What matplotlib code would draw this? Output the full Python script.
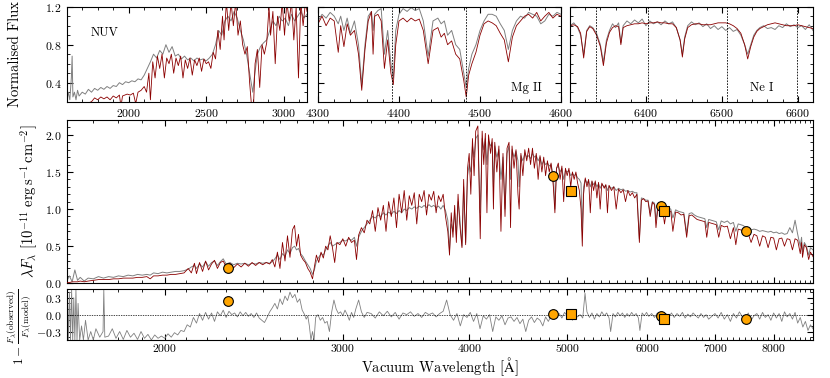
import numpy as np
import matplotlib
matplotlib.use('Agg')
import matplotlib.pyplot as plt
from matplotlib.ticker import FixedLocator, MultipleLocator, NullFormatter, FuncFormatter

# ---- spectrum, full range (wavelength in A, lambda*F_lambda in 1e-11 erg/s/cm2) ----
main_wave = [
    1600, 1610, 1620, 1630, 1640, 1650, 1665, 1680, 1700, 1720, 1740, 1760, 1780, 1800, 1820, 1840,
    1860, 1880, 1900, 1920, 1935, 1950, 1970, 1990, 2010, 2030, 2050, 2070, 2090, 2110, 2125, 2140,
    2150, 2165, 2180, 2195, 2210, 2225, 2240, 2255, 2270, 2285, 2300, 2320, 2340, 2360, 2380, 2400,
    2420, 2440, 2460, 2480, 2500, 2520, 2540, 2555, 2570, 2585, 2600, 2615, 2630, 2645, 2660, 2675,
    2688, 2700, 2712, 2725, 2740, 2755, 2770, 2785, 2800, 2812, 2825, 2840, 2855, 2870, 2885, 2900,
    2915, 2930, 2945, 2960, 2980, 3000, 3020, 3040, 3060, 3080, 3095, 3110, 3130, 3150, 3170, 3190,
    3210, 3230, 3250, 3270, 3290, 3310, 3330, 3350, 3370, 3390, 3410, 3430, 3450, 3470, 3490, 3510,
    3530, 3550, 3570, 3590, 3610, 3630, 3650, 3670, 3690, 3710, 3730, 3750, 3770, 3790, 3810, 3825,
    3840, 3855, 3870, 3885, 3900, 3915, 3935, 3950, 3968, 3985, 4000, 4015, 4030, 4045, 4060, 4080,
    4102, 4120, 4135, 4150, 4165, 4180, 4200, 4215, 4227, 4240, 4260, 4280, 4300, 4320, 4340, 4360,
    4380, 4395, 4410, 4430, 4450, 4470, 4482, 4500, 4520, 4540, 4560, 4580, 4600, 4620, 4640, 4660,
    4680, 4700, 4720, 4740, 4760, 4780, 4800, 4820, 4845, 4862, 4880, 4900, 4920, 4940, 4960, 4980,
    5000, 5020, 5040, 5060, 5080, 5100, 5120, 5140, 5160, 5175, 5190, 5210, 5230, 5250, 5270, 5290,
    5310, 5330, 5350, 5370, 5390, 5410, 5440, 5460, 5480, 5500, 5530, 5560, 5590, 5620, 5650, 5680,
    5710, 5740, 5770, 5800, 5830, 5860, 5893, 5920, 5950, 5980, 6010, 6040, 6070, 6100, 6120, 6150,
    6180, 6210, 6240, 6270, 6300, 6330, 6360, 6400, 6440, 6480, 6520, 6563, 6600, 6640, 6680, 6720,
    6760, 6800, 6840, 6870, 6900, 6940, 6980, 7020, 7060, 7100, 7150, 7200, 7250, 7300, 7340, 7380,
    7420, 7460, 7500, 7550, 7600, 7650, 7700, 7750, 7800, 7850, 7900, 7950, 8000, 8050, 8100, 8150,
    8200, 8250, 8300, 8350, 8400, 8450, 8500, 8525, 8544, 8580, 8620, 8664, 8700, 8750]
main_obs = [
    0.03, 0.10, 0.02, 0.18, 0.04, 0.08, 0.03, 0.07, 0.06, 0.09, 0.07, 0.09, 0.08, 0.10, 0.09, 0.11,
    0.10, 0.12, 0.11, 0.12, 0.11, 0.14, 0.13, 0.15, 0.14, 0.15, 0.16, 0.16, 0.17, 0.19, 0.22, 0.24,
    0.20, 0.26, 0.22, 0.29, 0.23, 0.28, 0.30, 0.24, 0.29, 0.33, 0.26, 0.28, 0.25, 0.27, 0.26, 0.27,
    0.25, 0.27, 0.26, 0.28, 0.27, 0.28, 0.27, 0.29, 0.33, 0.38, 0.32, 0.40, 0.36, 0.45, 0.40, 0.48,
    0.50, 0.45, 0.47, 0.40, 0.36, 0.30, 0.25, 0.20, 0.12, 0.18, 0.30, 0.35, 0.40, 0.38, 0.45, 0.50,
    0.55, 0.50, 0.52, 0.54, 0.55, 0.58, 0.57, 0.60, 0.58, 0.62, 0.50, 0.62, 0.70, 0.75, 0.80, 0.85,
    0.90, 0.88, 0.92, 0.90, 0.95, 0.92, 0.96, 0.93, 0.97, 0.94, 0.98, 0.95, 1.00, 0.98, 1.02, 1.00,
    1.03, 1.01, 1.04, 1.02, 1.05, 1.02, 1.06, 1.03, 1.05, 1.02, 1.04, 1.00, 1.05, 0.98, 0.85, 0.45,
    0.80, 0.70, 0.95, 0.65, 1.10, 0.90, 0.50, 1.30, 0.55, 1.45, 1.60, 1.50, 1.85, 1.70, 1.95, 2.00,
    0.95, 1.95, 1.80, 1.95, 1.60, 1.92, 1.85, 1.90, 1.30, 1.85, 1.70, 1.80, 1.40, 1.70, 1.00, 1.75,
    1.85, 1.40, 1.80, 1.70, 1.78, 1.65, 1.30, 1.72, 1.65, 1.75, 1.70, 1.72, 1.68, 1.75, 1.70, 1.72,
    1.65, 1.70, 1.60, 1.65, 1.60, 1.62, 1.58, 1.60, 1.45, 1.00, 1.55, 1.58, 1.50, 1.55, 1.40, 1.52,
    1.50, 1.52, 1.45, 1.48, 1.45, 1.47, 1.42, 1.40, 1.35, 0.70, 1.30, 1.40, 1.35, 1.38, 1.30, 1.37,
    1.33, 1.36, 1.30, 1.34, 1.28, 1.33, 1.30, 1.32, 1.25, 1.31, 1.28, 1.30, 1.25, 1.28, 1.26, 1.27,
    1.24, 1.25, 1.23, 1.24, 1.22, 1.22, 0.60, 1.15, 1.14, 1.12, 1.12, 0.95, 1.10, 1.08, 0.85, 1.06,
    1.04, 1.03, 0.90, 1.02, 1.01, 1.00, 0.88, 0.99, 0.97, 0.96, 0.95, 0.68, 0.94, 0.95, 0.92, 0.90,
    0.89, 0.88, 0.87, 0.75, 0.86, 0.85, 0.84, 0.83, 0.72, 0.84, 0.82, 0.84, 0.80, 0.82, 0.70, 0.80,
    0.79, 0.78, 0.76, 0.74, 0.72, 0.73, 0.72, 0.70, 0.71, 0.70, 0.69, 0.70, 0.68, 0.69, 0.67, 0.68,
    0.66, 0.67, 0.75, 0.68, 0.85, 0.66, 0.50, 0.62, 0.42, 0.55, 0.50, 0.38, 0.48, 0.45]
main_mod = [
    0.01, 0.01, 0.02, 0.02, 0.02, 0.03, 0.02, 0.03, 0.04, 0.05, 0.05, 0.05, 0.06, 0.06, 0.07, 0.07,
    0.07, 0.08, 0.08, 0.09, 0.06, 0.10, 0.10, 0.11, 0.11, 0.12, 0.12, 0.13, 0.14, 0.20, 0.14, 0.27,
    0.13, 0.28, 0.16, 0.30, 0.18, 0.26, 0.31, 0.20, 0.28, 0.30, 0.22, 0.27, 0.21, 0.26, 0.22, 0.27,
    0.23, 0.28, 0.24, 0.28, 0.25, 0.28, 0.26, 0.32, 0.22, 0.42, 0.20, 0.55, 0.30, 0.64, 0.35, 0.72,
    0.78, 0.50, 0.66, 0.38, 0.32, 0.28, 0.20, 0.15, 0.06, 0.22, 0.38, 0.28, 0.42, 0.34, 0.50, 0.45,
    0.64, 0.48, 0.28, 0.55, 0.52, 0.60, 0.50, 0.62, 0.55, 0.58, 0.32, 0.65, 0.75, 0.68, 0.85, 0.80,
    0.98, 0.70, 1.02, 0.85, 1.05, 0.70, 1.10, 0.90, 1.15, 0.75, 1.20, 0.95, 1.25, 0.85, 1.18, 1.05,
    1.22, 0.80, 1.20, 1.10, 1.25, 0.92, 1.20, 1.12, 1.24, 0.95, 1.18, 1.10, 1.20, 0.90, 0.70, 0.38,
    0.95, 0.62, 1.05, 0.55, 1.20, 0.80, 0.48, 1.40, 0.52, 1.55, 1.75, 1.20, 1.95, 1.45, 2.05, 2.12,
    0.60, 2.05, 1.60, 2.02, 0.95, 2.00, 1.75, 1.95, 1.00, 1.90, 1.50, 1.85, 0.70, 1.75, 0.90, 1.82,
    1.90, 0.75, 1.85, 1.55, 1.80, 1.20, 1.00, 1.75, 1.45, 1.80, 1.65, 1.82, 1.60, 1.82, 1.55, 1.75,
    1.40, 1.72, 1.50, 1.70, 1.45, 1.65, 1.50, 1.62, 1.30, 0.95, 1.55, 1.62, 1.40, 1.58, 1.10, 1.55,
    1.45, 1.55, 1.30, 1.50, 1.40, 1.50, 1.35, 1.25, 1.00, 0.50, 1.20, 1.42, 1.30, 1.40, 0.95, 1.38,
    1.25, 1.38, 1.15, 1.36, 1.00, 1.35, 1.28, 1.33, 0.95, 1.32, 1.25, 1.30, 1.00, 1.27, 1.22, 1.26,
    1.10, 1.25, 1.18, 1.22, 1.15, 1.20, 0.55, 1.12, 1.14, 1.10, 1.11, 0.90, 1.09, 1.06, 0.75, 1.05,
    1.02, 1.02, 0.80, 1.00, 0.98, 0.97, 0.70, 0.96, 0.95, 0.92, 0.93, 0.62, 0.91, 0.92, 0.89, 0.86,
    0.85, 0.84, 0.83, 0.62, 0.82, 0.81, 0.80, 0.79, 0.62, 0.78, 0.76, 0.77, 0.60, 0.75, 0.52, 0.73,
    0.72, 0.71, 0.68, 0.67, 0.55, 0.66, 0.64, 0.50, 0.64, 0.62, 0.48, 0.62, 0.61, 0.45, 0.60, 0.61,
    0.50, 0.60, 0.59, 0.45, 0.60, 0.58, 0.40, 0.55, 0.35, 0.52, 0.48, 0.32, 0.42, 0.36]

# ---- residuals 1 - F_obs/F_model ----
resid_wave = [
    1602, 1606, 1610, 1614, 1618, 1622, 1626, 1630, 1634, 1638, 1642, 1648, 1655, 1662, 1670, 1680,
    1690, 1700, 1710, 1725, 1738, 1741, 1745, 1760, 1775, 1790, 1805, 1820, 1835, 1850, 1865, 1880,
    1895, 1910, 1925, 1940, 1955, 1970, 1985, 2000, 2015, 2030, 2045, 2060, 2075, 2090, 2105, 2120,
    2135, 2150, 2165, 2180, 2195, 2210, 2225, 2240, 2255, 2270, 2285, 2300, 2315, 2330, 2345, 2360,
    2375, 2390, 2405, 2420, 2435, 2450, 2465, 2480, 2495, 2510, 2525, 2540, 2555, 2570, 2585, 2600,
    2615, 2630, 2645, 2660, 2675, 2690, 2705, 2720, 2735, 2750, 2760, 2770, 2780, 2790, 2800, 2810,
    2820, 2835, 2850, 2865, 2880, 2895, 2910, 2925, 2940, 2955, 2970, 2985, 3000, 3015, 3030, 3045,
    3060, 3075, 3090, 3110, 3130, 3150, 3170, 3200, 3230, 3260, 3290, 3320, 3350, 3380, 3410, 3440,
    3470, 3500, 3530, 3560, 3590, 3620, 3650, 3680, 3710, 3740, 3770, 3800, 3830, 3860, 3890, 3920,
    3950, 3980, 4010, 4040, 4070, 4100, 4130, 4160, 4190, 4220, 4250, 4280, 4310, 4340, 4370, 4400,
    4430, 4460, 4490, 4520, 4550, 4580, 4610, 4640, 4670, 4700, 4730, 4760, 4790, 4820, 4850, 4880,
    4910, 4940, 4970, 5000, 5030, 5060, 5090, 5120, 5150, 5180, 5207, 5230, 5260, 5290, 5320, 5350,
    5380, 5410, 5440, 5470, 5500, 5520, 5550, 5580, 5610, 5640, 5670, 5700, 5730, 5760, 5790, 5820,
    5850, 5880, 5900, 5930, 5960, 5990, 6020, 6060, 6100, 6140, 6180, 6220, 6260, 6300, 6340, 6380,
    6420, 6460, 6500, 6540, 6580, 6620, 6660, 6700, 6740, 6780, 6820, 6860, 6900, 6950, 7000, 7050,
    7100, 7150, 7200, 7250, 7300, 7350, 7400, 7450, 7500, 7550, 7600, 7650, 7700, 7750, 7800, 7850,
    7900, 7950, 8000, 8050, 8100, 8150, 8200, 8250, 8300, 8350, 8400, 8450, 8500, 8550, 8600, 8650,
    8700, 8750]
resid_val = [
    0.45, -0.45, 0.40, -0.45, 0.45, -0.45, 0.30, -0.45, 0.45, -0.45, 0.20, -0.45, -0.20, -0.45, -0.10, -0.45,
    -0.30, -0.45, -0.25, -0.40, -0.30, 0.45, -0.40, -0.38, -0.25, -0.42, -0.30, -0.44, -0.28, -0.40, -0.33, -0.44,
    -0.30, -0.42, -0.35, -0.45, -0.36, -0.42, -0.38, -0.42, -0.34, -0.40, -0.32, -0.36, -0.28, -0.30, -0.18, -0.22,
    -0.05, -0.15, 0.02, -0.10, 0.04, -0.08, 0.03, -0.12, 0.05, -0.02, 0.08, -0.05, 0.06, 0.00, 0.03, -0.04,
    0.05, -0.02, 0.04, -0.03, 0.02, -0.05, 0.03, -0.06, -0.10, -0.14, -0.05, 0.05, 0.12, 0.20, 0.10, 0.28,
    0.18, 0.33, 0.25, 0.40, 0.30, 0.36, 0.22, 0.28, 0.08, 0.00, -0.08, -0.02, -0.20, -0.45, -0.30, -0.45,
    -0.05, 0.00, -0.10, -0.05, -0.15, -0.12, -0.30, 0.05, 0.26, 0.10, 0.02, 0.05, -0.02, 0.08, 0.00, -0.10,
    0.04, -0.05, 0.10, 0.26, 0.05, -0.05, 0.04, 0.02, -0.06, 0.05, -0.02, 0.06, -0.04, 0.04, -0.08, 0.03,
    0.00, 0.05, -0.03, 0.02, -0.05, 0.04, 0.00, 0.03, -0.04, 0.02, 0.06, 0.26, 0.00, -0.10, 0.02, -0.20,
    0.00, -0.05, 0.04, -0.12, 0.02, -0.25, -0.02, -0.08, 0.00, -0.30, -0.04, -0.10, -0.02, -0.18, -0.06, -0.04,
    -0.12, -0.05, -0.16, -0.08, -0.30, -0.10, -0.04, -0.14, -0.06, -0.10, -0.20, -0.04, -0.12, -0.02, -0.08, -0.05,
    0.02, -0.06, 0.04, -0.02, 0.03, -0.10, 0.02, -0.04, 0.00, -0.06, 0.38, 0.05, -0.05, 0.03, -0.08, 0.02,
    -0.04, 0.05, -0.02, 0.03, -0.06, -0.30, 0.02, -0.04, 0.04, -0.02, 0.03, -0.05, 0.02, -0.03, 0.04, -0.02,
    0.02, -0.06, -0.28, 0.03, -0.02, 0.04, -0.03, 0.02, -0.05, 0.03, -0.02, -0.06, 0.02, -0.04, 0.03, -0.05,
    0.02, -0.03, 0.04, -0.06, 0.01, -0.04, 0.03, -0.02, -0.06, 0.02, -0.05, 0.00, -0.08, -0.03, 0.02, -0.06,
    0.04, -0.08, 0.00, -0.12, 0.02, -0.06, 0.05, -0.04, -0.08, 0.03, -0.10, -0.02, 0.02, -0.08, 0.04, -0.05,
    0.00, -0.10, 0.03, -0.06, 0.02, -0.12, 0.05, -0.04, 0.02, -0.08, 0.04, -0.15, -0.05, -0.22, -0.12, -0.28,
    -0.18, -0.25]

# ---- photometry ----
phot_circ_wave = [2308, 4841, 6188, 7520]
phot_circ_flux = [0.20, 1.44, 1.045, 0.70]
phot_circ_res = [0.245, 0.01, -0.03, -0.08]
phot_sq_wave = [5044, 6234]
phot_sq_flux = [1.24, 0.98]
phot_sq_res = [0.01, -0.08]

# ---- normalised NUV ----
nuv_obs_wave = [1600, 1610, 1620, 1630, 1635, 1640, 1650, 1660, 1670, 1680, 1700, 1720, 1740, 1760, 1780, 1800,
                1820, 1840, 1860, 1880, 1900, 1920, 1940, 1960, 1980, 2000, 2020, 2040, 2060, 2080, 2100, 2120,
                2140, 2160, 2180, 2200, 2220, 2240, 2260, 2280, 2300, 2320, 2340, 2360, 2380, 2400, 2420, 2440,
                2460, 2480, 2500, 2520, 2540, 2560, 2580, 2600, 2620, 2640, 2660, 2680, 2700, 2720, 2740, 2760,
                2775, 2790, 2800, 2810, 2830, 2850, 2870, 2890, 2910, 2930, 2950, 2970, 2990, 3010, 3030, 3050,
                3070, 3090, 3110, 3130, 3150]
nuv_obs = [0.20, 0.30, 0.22, 0.45, 0.68, 0.25, 0.30, 0.22, 0.32, 0.26, 0.30, 0.28, 0.33, 0.30, 0.34, 0.32,
           0.35, 0.33, 0.36, 0.34, 0.37, 0.36, 0.40, 0.38, 0.41, 0.40, 0.42, 0.41, 0.44, 0.43, 0.48, 0.55,
           0.62, 0.70, 0.66, 0.74, 0.70, 0.80, 0.72, 0.78, 0.68, 0.70, 0.65, 0.68, 0.64, 0.66, 0.63, 0.66,
           0.64, 0.65, 0.63, 0.66, 0.70, 0.80, 0.95, 0.90, 1.05, 1.10, 1.05, 1.15, 1.08, 0.95, 0.85, 0.70,
           0.55, 0.40, 0.30, 0.45, 0.70, 0.78, 0.82, 0.85, 0.95, 1.05, 1.00, 1.10, 1.05, 1.08, 1.00, 1.12,
           1.05, 1.10, 1.15, 1.08, 1.12]
nuv_mod_wave = [1600, 1700, 1760, 1780, 1800, 1820, 1840, 1860, 1880, 1900, 1920, 1940, 1950, 1960, 1990, 2010,
                2030, 2045, 2060, 2080, 2100, 2115, 2130, 2140, 2155, 2170, 2185, 2200, 2215, 2230, 2245, 2260,
                2275, 2290, 2305, 2320, 2335, 2350, 2365, 2380, 2395, 2410, 2425, 2440, 2455, 2470, 2485, 2500,
                2515, 2530, 2545, 2560, 2575, 2590, 2605, 2615, 2630, 2645, 2660, 2675, 2690, 2705, 2720, 2735,
                2750, 2765, 2780, 2795, 2805, 2815, 2830, 2845, 2860, 2875, 2890, 2905, 2915, 2930, 2945, 2960,
                2975, 2990, 3005, 3020, 3035, 3050, 3065, 3080, 3095, 3110, 3125, 3140, 3150]
nuv_mod = [0.12, 0.16, 0.20, 0.24, 0.22, 0.25, 0.23, 0.25, 0.22, 0.26, 0.24, 0.27, 0.15, 0.26, 0.28, 0.27,
           0.29, 0.18, 0.30, 0.32, 0.36, 0.30, 0.50, 0.22, 0.62, 0.45, 0.68, 0.55, 0.70, 0.45, 0.66, 0.60,
           0.70, 0.50, 0.66, 0.58, 0.68, 0.45, 0.64, 0.55, 0.66, 0.48, 0.64, 0.58, 0.66, 0.52, 0.65, 0.60,
           0.62, 0.55, 0.72, 0.65, 0.95, 0.75, 1.10, 0.85, 1.25, 0.95, 1.25, 1.00, 1.25, 0.90, 1.05, 0.80,
           0.70, 0.78, 0.40, 0.10, 0.15, 0.60, 0.75, 0.35, 0.80, 0.70, 0.82, 1.20, 0.90, 1.15, 0.60, 1.10,
           0.95, 1.25, 0.90, 1.25, 1.05, 1.25, 0.85, 1.20, 0.45, 1.25, 1.00, 1.25, 1.15]

# ---- normalised Mg II region ----
mg_wave = [4300, 4305, 4310, 4315, 4320, 4325, 4328, 4332, 4336, 4340, 4345, 4350, 4354, 4358, 4362, 4366,
           4368, 4370, 4374, 4378, 4382, 4386, 4390, 4393, 4396, 4400, 4405, 4410, 4415, 4420, 4425, 4430,
           4436, 4442, 4448, 4452, 4456, 4460, 4465, 4470, 4475, 4480, 4483, 4486, 4490, 4495, 4500, 4505,
           4510, 4515, 4520, 4525, 4530, 4535, 4540, 4545, 4550, 4555, 4560, 4565, 4570, 4575, 4580, 4585,
           4590, 4595, 4600]
mg_obs = [1.05, 1.12, 1.08, 1.14, 1.10, 1.02, 1.10, 0.95, 1.08, 0.92, 1.05, 0.80, 0.38, 0.80, 1.10, 1.15,
          0.95, 1.12, 1.16, 1.18, 0.70, 0.95, 0.60, 0.45, 0.95, 1.12, 1.18, 1.15, 1.19, 1.16, 1.18, 1.05,
          0.68, 1.05, 1.08, 1.02, 1.05, 0.90, 0.95, 0.80, 0.75, 0.50, 0.35, 0.55, 0.70, 0.80, 0.95, 1.05,
          1.12, 1.12, 1.10, 1.02, 0.95, 0.75, 0.95, 1.05, 1.10, 1.08, 1.14, 1.12, 1.10, 1.02, 1.05, 1.12,
          1.10, 1.14, 1.12]
mg_mod = [1.02, 1.10, 1.00, 1.08, 1.05, 0.72, 1.00, 0.78, 1.02, 0.90, 0.95, 0.70, 0.32, 0.75, 1.05, 1.15,
          0.70, 1.10, 1.12, 1.05, 0.55, 0.85, 0.50, 0.38, 0.80, 1.05, 1.08, 1.04, 1.08, 1.05, 1.07, 0.95,
          0.60, 0.95, 0.98, 0.88, 0.92, 0.80, 0.84, 0.70, 0.65, 0.42, 0.25, 0.48, 0.60, 0.72, 0.90, 1.02,
          1.05, 1.03, 1.00, 0.92, 0.85, 0.62, 0.88, 1.00, 1.05, 1.10, 1.12, 1.08, 1.14, 1.05, 1.10, 1.14,
          1.08, 1.12, 1.10]
mg_lines = [4391.8, 4482.4]

# ---- normalised Ne I region ----
ne_wave = [6300, 6305, 6310, 6314, 6318, 6322, 6326, 6330, 6335, 6340, 6344, 6348, 6352, 6356, 6360, 6364,
           6367, 6370, 6375, 6380, 6385, 6390, 6395, 6400, 6405, 6410, 6415, 6420, 6425, 6430, 6435, 6440,
           6445, 6448, 6451, 6455, 6460, 6465, 6470, 6475, 6480, 6485, 6490, 6495, 6500, 6505, 6510, 6515,
           6520, 6525, 6530, 6534, 6538, 6542, 6546, 6550, 6555, 6560, 6565, 6570, 6575, 6580, 6585, 6590,
           6595, 6600, 6605, 6610, 6615, 6620]
ne_obs = [1.00, 1.03, 0.98, 0.90, 0.70, 0.95, 1.00, 0.98, 0.92, 0.80, 0.62, 0.85, 0.95, 1.02, 0.98, 1.03,
          0.82, 1.00, 1.05, 1.02, 1.06, 1.03, 1.07, 1.00, 1.05, 1.02, 1.04, 1.01, 1.05, 1.02, 1.04, 0.98,
          0.85, 0.70, 0.88, 1.00, 1.04, 1.01, 1.03, 0.99, 1.02, 0.97, 1.00, 0.96, 0.99, 0.95, 0.98, 0.94,
          0.96, 0.90, 0.80, 0.70, 0.80, 0.90, 0.95, 0.98, 1.00, 0.97, 0.98, 0.96, 1.00, 0.98, 1.02, 0.99,
          1.01, 0.98, 1.00, 0.96, 1.01, 0.95]
ne_mod = [1.00, 1.01, 0.99, 0.92, 0.66, 0.94, 0.99, 0.97, 0.90, 0.78, 0.58, 0.82, 0.93, 0.98, 1.00, 0.99,
          0.80, 0.98, 1.00, 1.01, 1.02, 1.02, 1.03, 1.02, 1.03, 1.03, 1.04, 1.03, 1.03, 1.02, 1.02, 0.98,
          0.85, 0.67, 0.86, 0.98, 1.01, 1.02, 1.02, 1.01, 1.01, 1.01, 1.02, 1.03, 1.03, 1.03, 1.02, 1.00,
          0.97, 0.92, 0.80, 0.65, 0.78, 0.88, 0.94, 0.97, 0.99, 1.01, 1.02, 1.03, 1.02, 1.01, 1.00, 1.00,
          1.00, 1.01, 1.00, 0.99, 0.98, 0.97]
ne_lines = [6334.4, 6402.2, 6506.5, 6599.0]

# ---- style ----
plt.rcParams.update({
    'font.family': 'serif',
    'font.serif': ['cmr10'],
    'mathtext.fontset': 'cm',
    'axes.formatter.use_mathtext': True,
    'font.size': 8.5,
    'axes.linewidth': 0.8,
    'xtick.direction': 'in', 'ytick.direction': 'in',
    'xtick.top': True, 'ytick.right': True,
    'xtick.major.size': 4, 'ytick.major.size': 4,
    'xtick.minor.size': 2, 'ytick.minor.size': 2,
    'xtick.major.width': 0.8, 'ytick.major.width': 0.8,
    'xtick.minor.width': 0.6, 'ytick.minor.width': 0.6,
})

OBS = '#808080'
MOD = '#8b0000'
MK = '#ffa500'
fmt1 = FuncFormatter(lambda v, p: f"${v:.1f}$")

W, H = 830, 378
fig = plt.figure(figsize=(W / 100, H / 100), dpi=100)


def rect(x0, y0, x1, y1):
    return [x0 / W, 1 - y1 / H, (x1 - x0) / W, (y1 - y0) / H]


ax1 = fig.add_axes(rect(66.7, 6.7, 307, 101.7))
ax2 = fig.add_axes(rect(318, 6.7, 561, 101.7), sharey=ax1)
ax3 = fig.add_axes(rect(570, 6.7, 813, 101.7), sharey=ax1)
axm = fig.add_axes(rect(66.7, 120, 813, 283.3))
axr = fig.add_axes(rect(66.7, 289.3, 813, 340), sharex=axm)

# top row
ax1.plot(nuv_obs_wave, nuv_obs, color=OBS, lw=0.7)
ax1.plot(nuv_mod_wave, nuv_mod, color=MOD, lw=0.6)
ax1.set_xlim(1600, 3150)
ax1.set_ylim(0.2, 1.2)
ax1.xaxis.set_major_locator(FixedLocator([2000, 2500, 3000]))
ax1.xaxis.set_minor_locator(MultipleLocator(100))
ax1.yaxis.set_major_locator(MultipleLocator(0.4))
ax1.yaxis.set_minor_locator(MultipleLocator(0.1))
ax1.yaxis.set_major_formatter(fmt1)
ax1.set_ylabel('Normalised Flux', fontsize=10.5)
ax1.yaxis.set_label_coords(-0.185, 0.5)
ax1.text(0.10, 0.72, 'NUV', transform=ax1.transAxes, fontsize=9, va='center')

ax2.plot(mg_wave, mg_obs, color=OBS, lw=0.7)
ax2.plot(mg_wave, mg_mod, color=MOD, lw=0.6)
for l in mg_lines:
    ax2.axvline(l, color='k', ls='--', lw=0.6, dashes=(2, 1.5))
ax2.set_xlim(4300, 4600)
ax2.xaxis.set_major_locator(MultipleLocator(100))
ax2.xaxis.set_minor_locator(MultipleLocator(20))
ax2.text(0.92, 0.145, 'Mg II', transform=ax2.transAxes, fontsize=9, ha='right', va='center')

ax3.plot(ne_wave, ne_obs, color=OBS, lw=0.7)
ax3.plot(ne_wave, ne_mod, color=MOD, lw=0.6)
for l in ne_lines:
    ax3.axvline(l, color='k', ls='--', lw=0.6, dashes=(2, 1.5))
ax3.set_xlim(6300, 6620)
ax3.xaxis.set_major_locator(FixedLocator([6400, 6500, 6600]))
ax3.xaxis.set_minor_locator(MultipleLocator(20))
ax3.text(0.835, 0.145, 'Ne I', transform=ax3.transAxes, fontsize=9, ha='right', va='center')

for ax in (ax2, ax3):
    ax.tick_params(labelleft=False)

# main spectrum
axm.plot(main_wave, main_obs, color=OBS, lw=0.7, zorder=2)
axm.plot(main_wave, main_mod, color=MOD, lw=0.6, zorder=3)
axm.plot(phot_circ_wave, phot_circ_flux, 'o', ms=7, mfc=MK, mec='k', mew=0.8, zorder=5)
axm.plot(phot_sq_wave, phot_sq_flux, 's', ms=7, mfc=MK, mec='k', mew=0.8, zorder=5)
axm.set_xscale('log')
axm.set_xlim(1600, 8750)
axm.set_ylim(0, 2.2)
axm.yaxis.set_major_locator(MultipleLocator(0.5))
axm.yaxis.set_minor_locator(MultipleLocator(0.1))
axm.yaxis.set_major_formatter(fmt1)
axm.set_ylabel(r'$\lambda F_\lambda\ [10^{-11}\ \mathrm{erg\,s^{-1}\,cm^{-2}}]$', fontsize=10.5)
axm.yaxis.set_label_coords(-0.036, 0.5)
axm.tick_params(labelbottom=False)

# residuals
axr.plot(resid_wave, resid_val, color=OBS, lw=0.6, zorder=2)
axr.axhline(0, color='k', ls='--', lw=0.5, dashes=(2, 1.5), zorder=3)
axr.plot(phot_circ_wave, phot_circ_res, 'o', ms=7, mfc=MK, mec='k', mew=0.8, zorder=5)
axr.plot(phot_sq_wave, phot_sq_res, 's', ms=7, mfc=MK, mec='k', mew=0.8, zorder=5)
axr.set_ylim(-0.45, 0.45)
axr.yaxis.set_major_locator(MultipleLocator(0.3))
axr.yaxis.set_minor_locator(MultipleLocator(0.1))
axr.yaxis.set_major_formatter(fmt1)
axr.xaxis.set_major_locator(FixedLocator([2000, 3000, 4000, 5000, 6000, 7000, 8000]))
axr.xaxis.set_major_formatter(FuncFormatter(lambda v, p: f"{v:.0f}"))
axr.xaxis.set_minor_locator(FixedLocator(list(range(1600, 8800, 100))))
axr.xaxis.set_minor_formatter(NullFormatter())
axr.set_xlabel(r'Vacuum Wavelength [$\mathrm{\AA}$]', fontsize=10.5, labelpad=1)
axr.set_ylabel(r'$1-\frac{F_\lambda(\mathrm{observed})}{F_\lambda(\mathrm{model})}$', fontsize=9.5)
axr.yaxis.set_label_coords(-0.045, 0.26)

fig.savefig('out.png', dpi=100)
